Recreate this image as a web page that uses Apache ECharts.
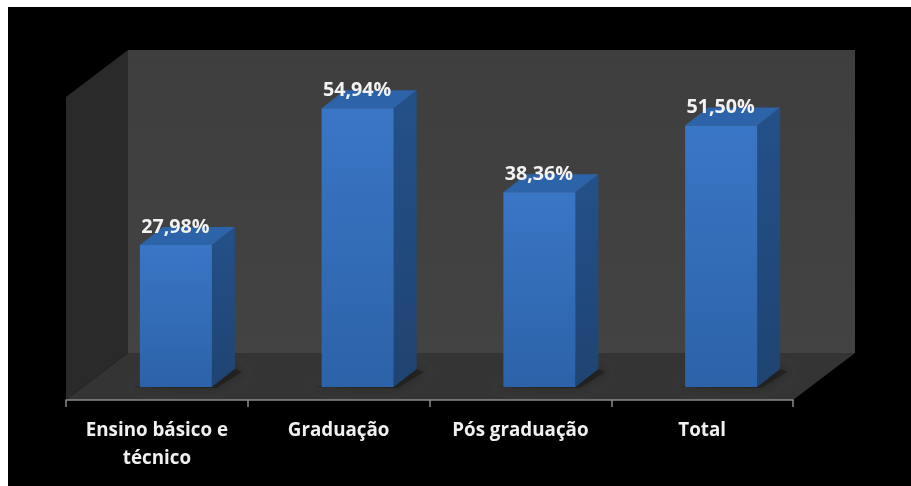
<!DOCTYPE html>
<html>
<head>
<meta charset="utf-8">
<style>
html,body{margin:0;padding:0;background:#fff;width:911px;height:486px;overflow:hidden}
#c{position:absolute;left:8px;top:7px;width:903px;height:479px}
</style>
<script src="https://cdn.jsdelivr.net/npm/echarts@6/dist/echarts.min.js"></script>
</head>
<body>
<div id="c"></div>
<script>
const categories = ['Ensino básico e\ntécnico', 'Graduação', 'Pós graduação', 'Total'];
const values = [27.98, 54.94, 38.36, 51.50];
const yMax = 59.7;

const WALL_DX = 62, WALL_DY = 47;
const BAR_SHIFT_X = 19, BAR_SHIFT_Y = 13;
const BAR_W = 72, BAR_DX = 23, BAR_DY = 18;
const FONT = '"Open Sans", "Noto Sans", sans-serif';

const poly = (points, fill, z2, extra) => ({
  type: 'polygon', z2: z2 || 0, silent: true,
  shape: { points },
  style: Object.assign({ fill, stroke: null }, extra || {})
});
const grad = (x, y, x2, y2, a, b) => ({ type: 'linear', x, y, x2, y2, colorStops: [{ offset: 0, color: a }, { offset: 1, color: b }] });

function renderWalls(params, api) {
  const band = api.size([1, 0])[0];
  const l = api.coord([0, 0])[0] - band / 2;
  const r = l + band * categories.length;
  const b = api.coord([0, 0])[1];
  const t = api.coord([0, yMax])[1];
  const dx = WALL_DX, dy = WALL_DY;
  return {
    type: 'group',
    children: [
      poly([[l + dx, t - dy], [r + dx, t - dy], [r + dx, b - dy], [l + dx, b - dy]], grad(0, 0, 0, 1, '#3e3e3e', '#434343')),
      poly([[l, t], [l + dx, t - dy], [l + dx, b - dy], [l, b]], '#2a2a2a'),
      poly([[l, b], [r, b], [r + dx, b - dy], [l + dx, b - dy]], '#343434')
    ]
  };
}

function renderBar(params, api) {
  const i = api.value(0), v = api.value(1);
  const top = api.coord([i, v]), base = api.coord([i, 0]);
  const cx = top[0] + BAR_SHIFT_X;
  const x0 = cx - BAR_W / 2, x1 = cx + BAR_W / 2;
  const yT = top[1] - BAR_SHIFT_Y, yB = base[1] - BAR_SHIFT_Y;
  const dx = BAR_DX, dy = BAR_DY;
  return {
    type: 'group',
    children: [
      poly([[x0 - 5, yB], [x1 + 4, yB + 1], [x1 + dx + 7, yB - dy + 3], [x1 + dx - 4, yB - dy - 2]], 'rgba(24,22,20,0.5)', 1,
        { shadowBlur: 10, shadowColor: 'rgba(18,16,14,0.7)' }),
      poly([[x1, yT], [x1 + dx, yT - dy], [x1 + dx, yB - dy], [x1, yB]], grad(0, 0, 0, 1, '#245089', '#1f4472'), 2),
      poly([[x0, yT], [x0 + dx, yT - dy], [x1 + dx, yT - dy], [x1, yT]], '#2d63a8', 2),
      poly([[x0, yT], [x1, yT], [x1, yB], [x0, yB]], grad(0, 0, 0, 1, '#3a76c6', '#2c62a8'), 3),
      {
        type: 'text', z2: 5, silent: true,
        style: {
          x: cx - 0.5, y: yT - 18, text: v.toFixed(2).replace('.', ',') + '%',
          fill: '#f2f2f2', font: 'bold 19.7px ' + FONT, align: 'center', verticalAlign: 'middle'
        }
      }
    ]
  };
}

const chart = echarts.init(document.getElementById('c'), null, { renderer: 'canvas' });
chart.setOption({
  animation: false,
  backgroundColor: '#000000',
  grid: { left: 58, top: 90, width: 727, height: 303 },
  xAxis: {
    type: 'category',
    data: categories,
    z: 10,
    axisLine: { show: true, lineStyle: { color: '#8a8a8a', width: 1.5 } },
    axisTick: { show: true, length: 7, lineStyle: { color: '#8a8a8a', width: 1.5 } },
    axisLabel: { color: '#f0f0f0', fontFamily: FONT, fontWeight: 'bold', fontSize: 18.8, lineHeight: 28, margin: 17, interval: 0 }
  },
  yAxis: { type: 'value', min: 0, max: yMax, show: false, splitLine: { show: false } },
  series: [
    { type: 'custom', z: 1, renderItem: renderWalls, data: [[0, 0]], silent: true },
    { type: 'custom', z: 2, renderItem: renderBar, data: values.map((v, i) => [i, v]), silent: true }
  ]
});
</script>
</body>
</html>
